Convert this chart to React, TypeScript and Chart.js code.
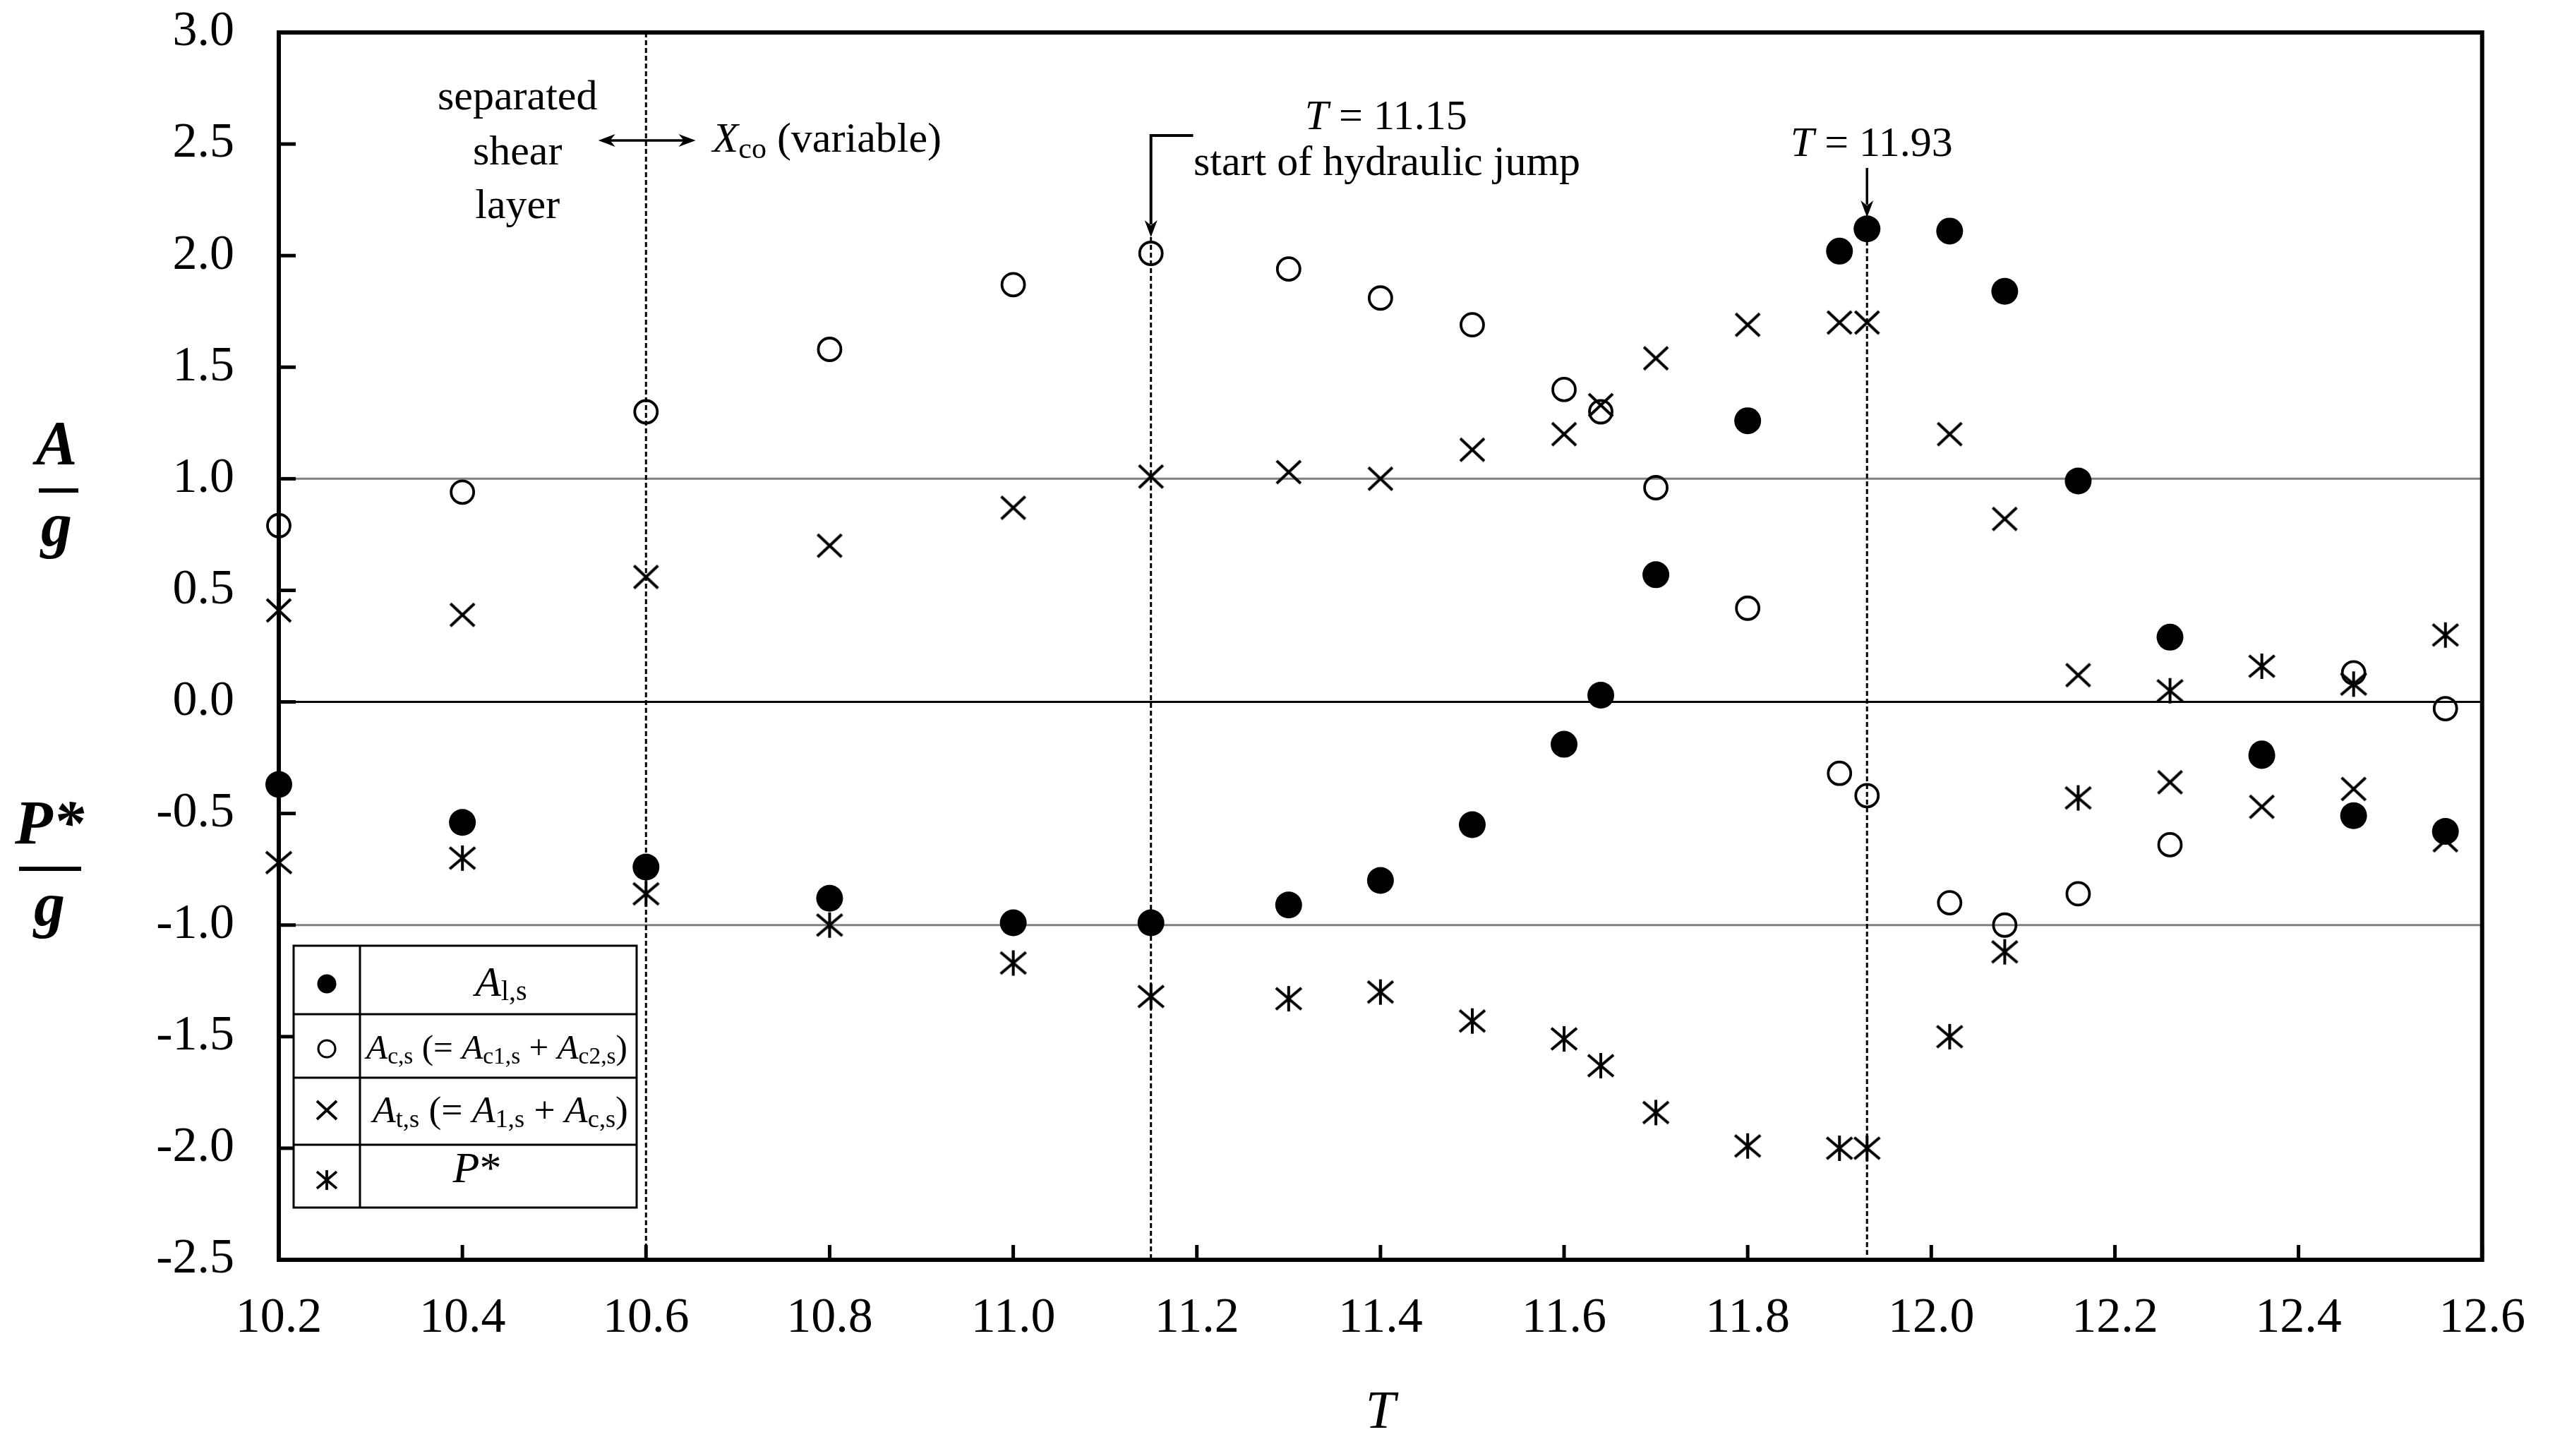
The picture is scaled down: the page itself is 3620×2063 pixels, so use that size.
import React, { useEffect, useRef } from "react";
import { Chart, registerables } from "chart.js";

Chart.register(...registerables);

// ---- data ----
const T = [10.2, 10.4, 10.6, 10.8, 11.0, 11.15, 11.3, 11.4, 11.5, 11.6, 11.64, 11.7, 11.8, 11.9, 11.93, 12.02, 12.08, 12.16, 12.26, 12.36, 12.46, 12.56];
const A1s = [-0.37, -0.54, -0.74, -0.88, -0.99, -0.99, -0.91, -0.8, -0.55, -0.19, 0.03, 0.57, 1.26, 2.02, 2.12, 2.11, 1.84, 0.99, 0.29, -0.24, -0.51, -0.58];
const Acs = [0.79, 0.94, 1.3, 1.58, 1.87, 2.01, 1.94, 1.81, 1.69, 1.4, 1.3, 0.96, 0.42, -0.32, -0.42, -0.9, -1.0, -0.86, -0.64, -0.23, 0.13, -0.03];
const Ats = [0.41, 0.39, 0.56, 0.7, 0.87, 1.01, 1.03, 1.0, 1.13, 1.2, 1.33, 1.54, 1.69, 1.7, 1.7, 1.2, 0.82, 0.12, -0.36, -0.47, -0.39, -0.62];
const Pstar = [-0.72, -0.7, -0.86, -1.0, -1.17, -1.32, -1.33, -1.3, -1.43, -1.51, -1.63, -1.84, -1.99, -2.0, -2.0, -1.5, -1.12, -0.43, 0.05, 0.16, 0.08, 0.3];

const xTickValues = [10.2, 10.4, 10.6, 10.8, 11.0, 11.2, 11.4, 11.6, 11.8, 12.0, 12.2, 12.4, 12.6];
const xTickLabels = ["10.2", "10.4", "10.6", "10.8", "11.0", "11.2", "11.4", "11.6", "11.8", "12.0", "12.2", "12.4", "12.6"];
const yTickValues = [-2.5, -2.0, -1.5, -1.0, -0.5, 0.0, 0.5, 1.0, 1.5, 2.0, 2.5, 3.0];
const yTickLabels = ["-2.5", "-2.0", "-1.5", "-1.0", "-0.5", "0.0", "0.5", "1.0", "1.5", "2.0", "2.5", "3.0"];

const refLines = [
  { y: 1, color: "#808080" },
  { y: -1, color: "#808080" },
  { y: 0, color: "#000000" },
];
const markerT = [10.6, 11.15, 11.93];

const FONT = '"Liberation Serif", "Times New Roman", Times, serif';

type Run = { t: string; it?: boolean; sub?: boolean; b?: boolean };

function drawRuns(
  ctx: CanvasRenderingContext2D,
  runs: Run[],
  x: number,
  y: number,
  align: "left" | "center",
  size: number,
  subSize: number,
  subDy: number,
  maxW?: number
) {
  let s = size, ss = subSize;
  const fontOf = (r: Run) => `${r.it ? "italic " : ""}${r.b ? "bold " : ""}${r.sub ? ss : s}px ${FONT}`;
  const measure = () => {
    let w = 0;
    for (const r of runs) {
      ctx.font = fontOf(r);
      w += ctx.measureText(r.t).width;
    }
    return w;
  };
  let w = measure();
  if (maxW && w > maxW) {
    const k = maxW / w;
    s *= k;
    ss *= k;
    w = measure();
  }
  let cx = align === "center" ? x - w / 2 : x;
  ctx.textAlign = "left";
  ctx.textBaseline = "alphabetic";
  ctx.fillStyle = "#000";
  for (const r of runs) {
    ctx.font = fontOf(r);
    ctx.fillText(r.t, cx, y + (r.sub ? subDy : 0));
    cx += ctx.measureText(r.t).width;
  }
}

function makeMarker(size: number, draw: (g: CanvasRenderingContext2D, c: number) => void) {
  const c = document.createElement("canvas");
  c.width = size;
  c.height = size;
  const g = c.getContext("2d")!;
  draw(g, size / 2);
  return c;
}

function drawX(g: CanvasRenderingContext2D, cx: number, cy: number, h: number, v: number, lw: number) {
  g.strokeStyle = "#000";
  g.lineWidth = lw;
  g.lineCap = "butt";
  g.beginPath();
  g.moveTo(cx - h, cy - v);
  g.lineTo(cx + h, cy + v);
  g.moveTo(cx - h, cy + v);
  g.lineTo(cx + h, cy - v);
  g.stroke();
}

function drawStar(g: CanvasRenderingContext2D, cx: number, cy: number, h: number, lw: number) {
  drawX(g, cx, cy, h, h * 0.85, lw);
  g.beginPath();
  g.moveTo(cx, cy - h);
  g.lineTo(cx, cy + h);
  g.stroke();
}

function arrowHead(ctx: CanvasRenderingContext2D, x: number, y: number, dx: number, dy: number, len = 24, hw = 9) {
  const n = Math.hypot(dx, dy);
  const ux = dx / n, uy = dy / n;
  ctx.beginPath();
  ctx.moveTo(x, y);
  ctx.lineTo(x - ux * len - uy * hw, y - uy * len + ux * hw);
  ctx.lineTo(x - ux * len * 0.7, y - uy * len * 0.7);
  ctx.lineTo(x - ux * len + uy * hw, y - uy * len - ux * hw);
  ctx.closePath();
  ctx.fill();
}

export default function App() {
  const ref = useRef<HTMLCanvasElement>(null);

  useEffect(() => {
    document.body.style.margin = "0";
    const canvas = ref.current!;

    const xImg = makeMarker(46, (g, c) => drawX(g, c, c, 17, 16, 4));
    const starImg = makeMarker(46, (g, c) => drawStar(g, c, c, 18, 4));

    const decor = {
      id: "decor",
      beforeDatasetsDraw(chart: any) {
        const ctx: CanvasRenderingContext2D = chart.ctx;
        const xs = chart.scales.x, ys = chart.scales.y;
        const X = (v: number) => xs.getPixelForValue(v);
        const Y = (v: number) => ys.getPixelForValue(v);
        const { left, right, top, bottom } = chart.chartArea;
        ctx.save();
        for (const l of refLines) {
          ctx.strokeStyle = l.color;
          ctx.lineWidth = 3;
          ctx.beginPath();
          ctx.moveTo(left, Y(l.y));
          ctx.lineTo(right, Y(l.y));
          ctx.stroke();
        }
        ctx.strokeStyle = "#000";
        ctx.lineWidth = 3;
        ctx.setLineDash([7, 4]);
        const starts = [3.0, 2.083, 2.171];
        markerT.forEach((t, i) => {
          ctx.beginPath();
          ctx.moveTo(X(t), Y(starts[i]));
          ctx.lineTo(X(t), bottom);
          ctx.stroke();
        });
        ctx.setLineDash([]);
        ctx.lineWidth = 5;
        for (const v of xTickValues) {
          ctx.beginPath();
          ctx.moveTo(X(v), bottom);
          ctx.lineTo(X(v), bottom - 21);
          ctx.stroke();
        }
        for (const v of yTickValues) {
          ctx.beginPath();
          ctx.moveTo(left, Y(v));
          ctx.lineTo(left + 24, Y(v));
          ctx.stroke();
        }
        ctx.lineWidth = 6;
        ctx.strokeRect(left, top, right - left, bottom - top);
        ctx.restore();
      },
      afterDatasetsDraw(chart: any) {
        const ctx: CanvasRenderingContext2D = chart.ctx;
        const xs = chart.scales.x, ys = chart.scales.y;
        const X = (v: number) => xs.getPixelForValue(v);
        const Y = (v: number) => ys.getPixelForValue(v);
        const { left } = chart.chartArea;
        ctx.save();
        ctx.fillStyle = "#000";
        ctx.strokeStyle = "#000";

        ctx.font = `60px ${FONT}`;
        ctx.textAlign = "center";
        ctx.textBaseline = "alphabetic";
        ctx.fillText("separated", X(10.46), Y(2.655));
        ctx.fillText("shear", X(10.46), Y(2.41));
        ctx.fillText("layer", X(10.46), Y(2.168));

        ctx.lineWidth = 3.5;
        const ay = Y(2.516);
        ctx.beginPath();
        ctx.moveTo(X(10.548) + 15, ay);
        ctx.lineTo(X(10.654) - 15, ay);
        ctx.stroke();
        arrowHead(ctx, X(10.548), ay, -1, 0);
        arrowHead(ctx, X(10.654), ay, 1, 0);

        drawRuns(ctx, [{ t: "X", it: true }, { t: "co", sub: true }, { t: " (variable)" }], X(10.6725), Y(2.465), "left", 60, 42, 9);

        ctx.lineWidth = 4;
        const hy = Y(2.538);
        ctx.beginPath();
        ctx.moveTo(X(11.196), hy);
        ctx.lineTo(X(11.15), hy);
        ctx.lineTo(X(11.15), Y(2.083) - 18);
        ctx.stroke();
        arrowHead(ctx, X(11.15), Y(2.083), 0, 1);
        drawRuns(ctx, [{ t: "T", it: true }, { t: " = 11.15" }], X(11.406), Y(2.567), "center", 60, 40, 0);
        ctx.font = `60px ${FONT}`;
        ctx.textAlign = "center";
        ctx.fillText("start of hydraulic jump", X(11.407), Y(2.36));

        ctx.lineWidth = 3.5;
        ctx.beginPath();
        ctx.moveTo(X(11.93), Y(2.393));
        ctx.lineTo(X(11.93), Y(2.171) - 18);
        ctx.stroke();
        arrowHead(ctx, X(11.93), Y(2.171), 0, 1);
        drawRuns(ctx, [{ t: "T", it: true }, { t: " = 11.93" }], X(11.935), Y(2.446), "center", 60, 40, 0);

        // legend table
        const bl = left + 21, br = left + 507, bt = 1340, bb = 1711;
        const divX = left + 115;
        const rows = [bt, 1437, 1527, 1622, bb];
        ctx.fillStyle = "#fff";
        ctx.fillRect(bl, bt, br - bl, bb - bt);
        ctx.fillStyle = "#000";
        ctx.lineWidth = 3;
        ctx.strokeRect(bl, bt, br - bl, bb - bt);
        ctx.beginPath();
        ctx.moveTo(divX, bt);
        ctx.lineTo(divX, bb);
        for (let i = 1; i < 4; i++) {
          ctx.moveTo(bl, rows[i]);
          ctx.lineTo(br, rows[i]);
        }
        ctx.stroke();
        const mx = (bl + divX) / 2;
        const mcy = [1394, 1486, 1573, 1672];
        ctx.beginPath();
        ctx.arc(mx, mcy[0], 13.5, 0, Math.PI * 2);
        ctx.fill();
        ctx.lineWidth = 3;
        ctx.beginPath();
        ctx.arc(mx, mcy[1], 12, 0, Math.PI * 2);
        ctx.stroke();
        drawX(ctx, mx, mcy[2], 14, 13, 3.8);
        drawStar(ctx, mx, mcy[3], 14, 3.8);
        const tc = (divX + br) / 2;
        drawRuns(ctx, [{ t: "A", it: true }, { t: "l,s", sub: true }], tc + 4, 1411, "center", 60, 40, 6);
        drawRuns(
          ctx,
          [
            { t: "A", it: true }, { t: "c,s", sub: true }, { t: " (= " },
            { t: "A", it: true }, { t: "c1,s", sub: true }, { t: " + " },
            { t: "A", it: true }, { t: "c2,s", sub: true }, { t: ")" },
          ],
          tc - 2, 1500, "center", 56, 38, 7, 370
        );
        drawRuns(
          ctx,
          [
            { t: "A", it: true }, { t: "t,s", sub: true }, { t: " (= " },
            { t: "A", it: true }, { t: "1,s", sub: true }, { t: " + " },
            { t: "A", it: true }, { t: "c,s", sub: true }, { t: ")" },
          ],
          tc + 3, 1590, "center", 56, 38, 7, 362
        );
        drawRuns(ctx, [{ t: "P", it: true }, { t: "*" }], tc - 30, 1675, "center", 62, 40, 0);

        const frac = (topRuns: Run[], cx: number, topBase: number, lineY: number, x0: number, x1: number, gBase: number) => {
          drawRuns(ctx, topRuns, cx, topBase, "center", 88, 60, 0);
          ctx.lineWidth = 6;
          ctx.beginPath();
          ctx.moveTo(x0, lineY);
          ctx.lineTo(x1, lineY);
          ctx.stroke();
          drawRuns(ctx, [{ t: "g", it: true, b: true }], cx, gBase, "center", 88, 60, 0);
        };
        frac([{ t: "A", it: true, b: true }], 80, 657, 695, 55, 111, 773);
        frac([{ t: "P*", it: true, b: true }], 70, 1195, 1231, 27, 115, 1311);

        ctx.restore();
      },
    };

    const pts = (vals: number[]) => T.map((t, i) => ({ x: t, y: vals[i] }));

    const chart = new Chart(canvas, {
      type: "scatter",
      data: {
        datasets: [
          {
            label: "A1,s",
            data: pts(A1s),
            pointStyle: "circle",
            pointRadius: 19,
            backgroundColor: "#000",
            borderColor: "#000",
            borderWidth: 0,
            clip: false,
          },
          {
            label: "Ac,s",
            data: pts(Acs),
            pointStyle: "circle",
            pointRadius: 16,
            backgroundColor: "rgba(0,0,0,0)",
            borderColor: "#000",
            borderWidth: 3.8,
            clip: false,
          },
          {
            label: "At,s",
            data: pts(Ats),
            pointStyle: xImg as any,
            pointRadius: 17,
            clip: false,
          },
          {
            label: "P*",
            data: pts(Pstar),
            pointStyle: starImg as any,
            pointRadius: 17,
            clip: false,
          },
        ] as any,
      },
      options: {
        responsive: false,
        animation: false,
        devicePixelRatio: 1,
        events: [],
        layout: { padding: { left: 0, top: 46, right: 91, bottom: 0 } },
        plugins: { legend: { display: false }, tooltip: { enabled: false } },
        scales: {
          x: {
            type: "linear",
            min: 10.2,
            max: 12.6,
            afterBuildTicks: (s: any) => {
              s.ticks = xTickValues.map((v) => ({ value: v }));
            },
            afterFit: (s: any) => {
              s.height = 278;
            },
            ticks: {
              autoSkip: false,
              maxRotation: 0,
              padding: 42,
              color: "#000",
              font: { family: FONT, size: 70 },
              callback: (_v: any, i: number) => xTickLabels[i],
            },
            grid: { display: false, drawTicks: false },
            border: { display: false },
            title: {
              display: true,
              text: "T",
              color: "#000",
              font: { family: FONT, size: 76, style: "italic" },
              padding: { top: 0, bottom: 14 },
            },
          },
          y: {
            type: "linear",
            min: -2.5,
            max: 3.0,
            afterBuildTicks: (s: any) => {
              s.ticks = yTickValues.map((v) => ({ value: v }));
            },
            afterFit: (s: any) => {
              s.width = 395;
              s.paddingTop = 0;
              s.paddingBottom = 0;
            },
            ticks: {
              autoSkip: false,
              padding: 63,
              color: "#000",
              font: { family: FONT, size: 70 },
              callback: (_v: any, i: number) => yTickLabels[i],
            },
            grid: { display: false, drawTicks: false },
            border: { display: false },
          },
        },
      } as any,
      plugins: [decor],
    });

    return () => chart.destroy();
  }, []);

  return (
    <div style={{ position: "fixed", left: 0, top: 0, width: 3620, height: 2063, background: "#fff" }}>
      <canvas ref={ref} width={3620} height={2063} style={{ display: "block", width: 3620, height: 2063 }} />
    </div>
  );
}
